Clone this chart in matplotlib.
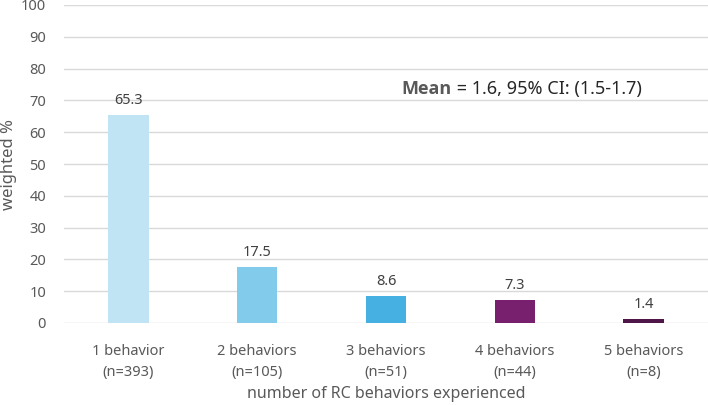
import matplotlib
matplotlib.use('Agg')
import matplotlib.pyplot as plt
import numpy as np

plt.rcParams['font.family'] = ['Noto Sans', 'DejaVu Sans']

categories = ['1 behavior\n(n=393)', '2 behaviors\n(n=105)', '3 behaviors\n(n=51)',
              '4 behaviors\n(n=44)', '5 behaviors\n(n=8)']
values = [65.3, 17.5, 8.6, 7.3, 1.4]
colors = ['#C1E4F5', '#83CBEB', '#45B0E1', '#78206E', '#4F1548']

fig = plt.figure(figsize=(7.08, 4.05), dpi=100)
ax = fig.add_axes([64/708, 1 - 323/405, 644/708, 318/405])

x = np.arange(len(values))
ax.bar(x, values, width=0.315, color=colors, zorder=3)
for xi, v in zip(x, values):
    ax.text(xi, v + 2.2, f'{v:.1f}', ha='center', va='bottom',
            fontsize=10.5, color='#404040')

ax.set_xlim(-0.5, 4.5)
ax.set_ylim(0, 100)
ax.set_yticks(range(0, 101, 10))
ax.grid(axis='y', color='#D9D9D9', lw=1, zorder=0)
ax.set_xticks(x)
ax.set_xticklabels(categories, fontsize=10.5, color='#595959', linespacing=1.6)
ax.tick_params(axis='both', length=0, labelsize=10.5, labelcolor='#595959')
ax.tick_params(axis='x', pad=15)
ax.tick_params(axis='y', pad=13)
for s in ax.spines.values():
    s.set_visible(False)

ax.set_ylabel('weighted %', fontsize=12, color='#595959')
ax.yaxis.set_label_coords(-47/644, 0.5)
ax.set_xlabel('number of RC behaviors experienced', fontsize=11.5, color='#595959', labelpad=4)

t = ax.text(2.12, 73.5, 'Mean', fontsize=13, fontweight='bold', color='#595959',
            va='center', ha='left', family=['Open Sans', 'DejaVu Sans'])
ax.annotate(' = 1.6, 95% CI: (1.5-1.7)', xy=(1, 0.5), xycoords=t, va='center', ha='left',
            fontsize=13, color='#262626')

fig.savefig('out.png', dpi=100)
